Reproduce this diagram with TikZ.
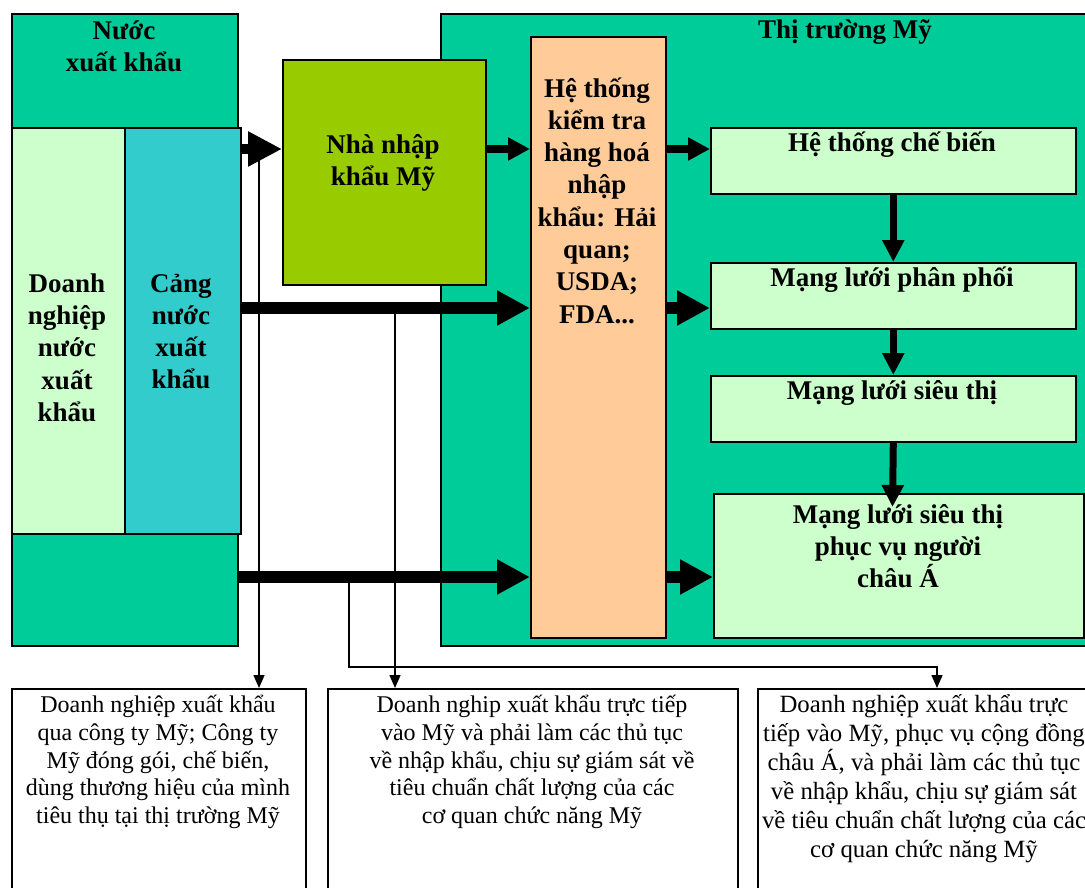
\documentclass[tikz,border=0pt]{standalone}
\usepackage{fontspec}
\setmainfont{Liberation Serif}
\usetikzlibrary{arrows.meta}
\definecolor{tealg}{HTML}{00CC99}
\definecolor{lightg}{HTML}{CCFFCC}
\definecolor{cyanb}{HTML}{33CCCC}
\definecolor{yellowg}{HTML}{99CC00}
\definecolor{peach}{HTML}{FFCC99}
\begin{document}
\begin{tikzpicture}[x=1pt,y=-1pt,
  box/.style={draw=black, line width=1.6pt, rectangle, inner sep=0pt, anchor=north west},
  bt/.style={font=\bfseries\fontsize{27}{32.3}\selectfont, align=center, inner sep=0pt},
  rt/.style={font=\fontsize{24}{27.8}\selectfont, align=center, inner sep=0pt},
  bigA/.style={line width=12pt, -{Triangle[width=33pt,length=33pt]}},
  midA/.style={line width=10pt, -{Triangle[width=33pt,length=34pt]}},
  smallA/.style={line width=8pt, -{Triangle[width=22pt,length=22pt]}},
  vA/.style={line width=7pt, -{Triangle[width=21pt,length=22pt]}},
  thinA/.style={line width=1.5pt, -{Triangle[width=11pt,length=13pt]}}]
\useasboundingbox (0,0) rectangle (1085,888);
\fill[white] (0,0) rectangle (1085,888);

% left side
\node[box, fill=tealg, minimum width=226pt, minimum height=632pt] (exp) at (11,13) {};
\node[box, fill=lightg, minimum width=113pt, minimum height=406pt] (dn) at (11,127) {};
\node[box, fill=cyanb, minimum width=116pt, minimum height=406pt] (cang) at (124,127) {};

% US market
\node[box, fill=tealg, minimum width=680pt, minimum height=632pt] (us) at (440,13) {};
\node[box, fill=yellowg, minimum width=203pt, minimum height=225pt] (nnk) at (282,59) {};
\node[box, fill=peach, minimum width=135pt, minimum height=601pt] (ktra) at (530,36) {};
\node[box, fill=lightg, minimum width=365pt, minimum height=66pt] (cb) at (710,127) {};
\node[box, fill=lightg, minimum width=365pt, minimum height=66pt] (pp) at (710,262) {};
\node[box, fill=lightg, minimum width=365pt, minimum height=66pt] (st) at (710,375) {};
\node[box, fill=lightg, minimum width=370pt, minimum height=144pt] (ca) at (713,493) {};

% bottom boxes
\node[box, fill=white, minimum width=294pt, minimum height=230pt] (b1) at (11,688) {};
\node[box, fill=white, minimum width=410pt, minimum height=230pt] (b2) at (327,688) {};
\node[box, fill=white, minimum width=360pt, minimum height=230pt] (b3) at (757,688) {};

% texts
\node[bt] (t-exp) at (124,46) {Nước\\xuất khẩu};
\node[bt] (t-dn) at (67,347.5) {Doanh\\nghiệp\\nước\\xuất\\khẩu};
\node[bt] (t-cang) at (181,331.5) {Cảng\\nước\\xuất\\khẩu};
\node[bt] (t-us) at (845,32) {Thị trường Mỹ};
\node[bt] (t-nnk) at (383,163) {Nhà nhập\\khẩu Mỹ};
\node[bt] (t-ktra) at (597,200.5) {Hệ thống\\kiểm tra\\hàng hoá\\nhập\\khẩu: Hải\\quan;\\USDA;\\FDA...};
\node[bt] (t-cb) at (892,145) {Hệ thống chế biến};
\node[bt] (t-pp) at (892,280) {Mạng lưới phân phối};
\node[bt] (t-st) at (892,393) {Mạng lưới siêu thị};
\node[bt] (t-ca) at (898,546) {Mạng lưới siêu thị\\phục vụ người\\châu Á};

\node[rt] (t-b1) at (158,762) {Doanh nghiệp xuất khẩu\\qua công ty Mỹ; Công ty\\Mỹ đóng gói, chế biến,\\dùng thương hiệu của mình\\tiêu thụ tại thị trường Mỹ};
\node[rt] (t-b2) at (532,762) {Doanh nghip xuất khẩu trực tiếp\\vào Mỹ và phải làm các thủ tục\\về nhập khẩu, chịu sự giám sát về\\tiêu chuẩn chất lượng của các\\cơ quan chức năng Mỹ};
\node[rt, font=\fontsize{24.8}{29}\selectfont] (t-b3) at (924,778.5) {Doanh nghiệp xuất khẩu trực\\tiếp vào Mỹ, phục vụ cộng đồng\\châu Á, và phải làm các thủ tục\\về nhập khẩu, chịu sự giám sát\\về tiêu chuẩn chất lượng của các\\cơ quan chức năng Mỹ};

% thin connectors
\coordinate (c1) at (259,149);
\coordinate (c2) at (395,308);
\coordinate (c3) at (349,577);
\coordinate (c4) at (937,667);
\draw[thinA] (c1) -- (c1 |- b1.north);
\draw[thinA] (c2) -- (c2 |- b2.north);
\draw[thinA] (c3) |- (c4) -- (c4 |- b3.north);

% thick arrows
\draw[midA] (cang.east |- c1) -- (nnk.west |- c1);
\draw[smallA] (nnk.east |- c1) -- (ktra.west |- c1);
\draw[smallA] (ktra.east |- c1) -- (cb.west |- c1);
\draw[bigA] (cang.east |- c2) -- (ktra.west |- c2);
\draw[bigA] (ktra.east |- c2) -- (pp.west |- c2);
\draw[bigA] (exp.east |- c3) -- (ktra.west |- c3);
\draw[bigA] (ktra.east |- c3) -- (ca.west |- c3);

% vertical arrows
\draw[vA] (cb.south) -- (pp.north);
\draw[vA] (pp.south) -- (st.north);
\coordinate (ca-in) at (892.5,507);
\draw[vA] (st.south) -- (ca-in);
\end{tikzpicture}
\end{document}
